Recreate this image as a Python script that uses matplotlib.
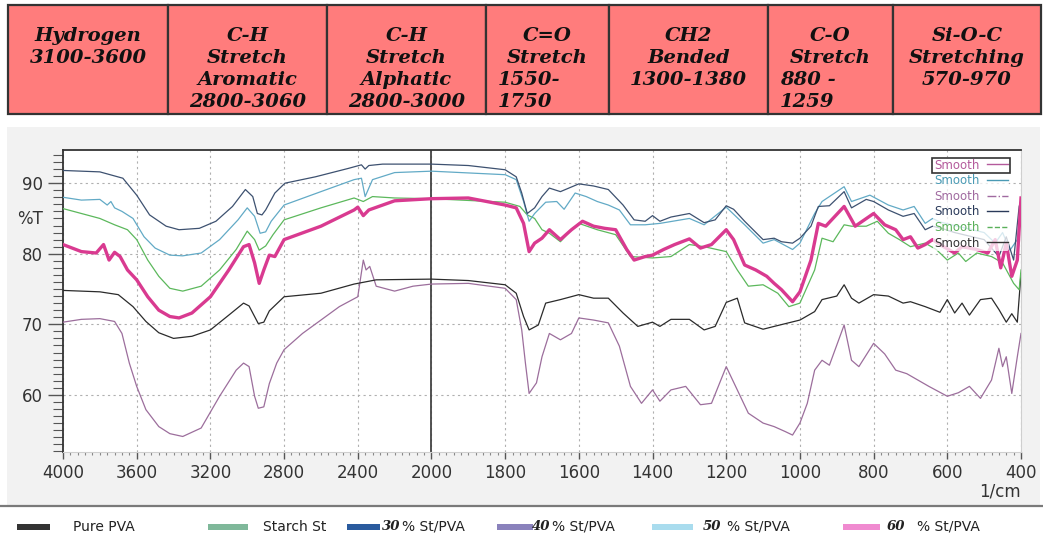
import numpy as np
import matplotlib.pyplot as plt
from matplotlib.lines import Line2D
from matplotlib.patches import Rectangle
from matplotlib.transforms import Bbox

W, H = 1043, 555

# header table: column edges (px) and the text of each column
col_edges = [8, 168, 327, 486, 609, 768, 893, 1041]
header = [["Hydrogen", "3100-3600"],
          ["C-H", "Stretch", "Aromatic", "2800-3060"],
          ["C-H", "Stretch", "Alphatic", "2800-3000"],
          ["C=O", "Stretch", "1550-", "1750"],
          ["CH2", "Bended", "1300-1380"],
          ["C-O", "Stretch", "880 -", "1259"],
          ["Si-O-C", "Stretching", "570-970"]]
wrapped_cols = [3, 5]  # last two lines run on from the left

# spectra, (wavenumber 1/cm, %T)
pure_pva = [(4000, 74.8), (3800, 74.6), (3700, 74.2), (3620, 72.5), (3550, 70.4), (3480, 68.8),
            (3400, 68.0), (3300, 68.3), (3200, 69.2), (3100, 71.3), (3020, 73.0), (2990, 72.6),
            (2960, 71.1), (2940, 70.1), (2910, 70.3), (2880, 71.9), (2800, 73.9), (2600, 74.4),
            (2420, 75.7), (2380, 75.9), (2300, 76.3), (2000, 76.4), (1900, 76.2), (1800, 75.6),
            (1770, 74.4), (1750, 71.1), (1735, 69.2), (1710, 69.9), (1690, 73.0), (1650, 73.5),
            (1600, 74.2), (1560, 73.7), (1520, 73.7), (1480, 71.6), (1440, 69.7), (1400, 70.3),
            (1380, 69.7), (1350, 70.7), (1300, 70.7), (1260, 69.2), (1230, 69.7), (1200, 73.1),
            (1170, 73.7), (1150, 70.2), (1100, 69.3), (1070, 69.7), (1000, 70.6), (960, 71.8),
            (940, 73.5), (900, 74.0), (880, 75.6), (860, 73.7), (840, 73.0), (800, 74.2),
            (760, 74.0), (720, 73.0), (700, 73.2), (660, 72.5), (620, 71.7), (600, 73.5),
            (580, 71.6), (560, 73.0), (540, 71.3), (510, 73.5), (480, 73.7), (460, 72.1),
            (440, 70.3), (425, 71.5), (410, 70.3), (400, 77.2)]

starch = [(4000, 86.4), (3900, 85.7), (3800, 85.0), (3720, 84.1), (3650, 83.4), (3600, 82.0),
          (3540, 79.1), (3480, 76.8), (3420, 75.1), (3350, 74.7), (3250, 75.4), (3150, 77.7),
          (3060, 80.6), (3000, 83.2), (2960, 82.0), (2935, 80.5), (2900, 81.1), (2860, 82.7),
          (2800, 84.8), (2600, 86.5), (2420, 87.9), (2370, 87.4), (2320, 88.1), (2200, 87.9),
          (2000, 87.8), (1800, 87.3), (1760, 86.7), (1740, 85.5), (1720, 85.0), (1700, 83.4),
          (1680, 82.9), (1650, 81.7), (1620, 83.4), (1600, 84.3), (1550, 83.4), (1500, 82.7),
          (1460, 79.6), (1400, 79.4), (1350, 79.6), (1300, 81.3), (1260, 81.0), (1200, 80.3),
          (1170, 77.7), (1140, 75.4), (1100, 75.6), (1060, 74.4), (1030, 72.5), (1000, 73.0),
          (960, 77.7), (940, 82.2), (910, 81.7), (880, 84.1), (860, 83.9), (820, 83.9),
          (790, 84.6), (760, 82.9), (730, 82.0), (700, 81.0), (660, 81.5), (630, 80.6),
          (600, 79.1), (570, 80.1), (550, 78.9), (520, 80.1), (480, 79.6), (450, 78.7),
          (420, 75.8), (405, 74.9), (400, 77.7)]

st30 = [(4000, 91.8), (3800, 91.6), (3675, 90.7), (3600, 88.3), (3530, 85.5), (3440, 83.9),
        (3370, 83.4), (3260, 83.6), (3170, 84.6), (3080, 86.7), (3010, 89.1), (2970, 88.1),
        (2945, 85.7), (2920, 85.5), (2900, 86.2), (2850, 88.6), (2795, 90.0), (2630, 90.9),
        (2450, 92.1), (2380, 92.6), (2360, 92.0), (2340, 92.5), (2265, 92.7), (2000, 92.7),
        (1900, 92.5), (1800, 91.9), (1770, 90.9), (1755, 88.6), (1740, 85.7), (1720, 86.5),
        (1700, 88.1), (1680, 89.3), (1650, 88.8), (1600, 89.9), (1560, 89.6), (1520, 89.1),
        (1480, 86.9), (1450, 84.8), (1420, 84.6), (1400, 85.4), (1380, 84.6), (1350, 85.2),
        (1300, 85.7), (1260, 84.4), (1230, 84.8), (1200, 86.8), (1180, 86.3), (1150, 84.6),
        (1100, 82.0), (1070, 82.2), (1050, 81.7), (1020, 81.5), (1000, 82.2), (970, 83.9),
        (950, 86.7), (920, 86.8), (880, 88.8), (860, 86.5), (820, 87.7), (800, 87.4),
        (760, 86.2), (720, 85.3), (690, 85.7), (660, 83.4), (640, 83.9), (610, 83.5),
        (580, 83.0), (540, 82.5), (500, 82.0), (460, 79.6), (440, 82.4), (420, 79.1),
        (405, 86.7), (400, 87.6)]

st40 = [(4000, 70.3), (3900, 70.7), (3800, 70.8), (3720, 70.4), (3680, 68.7), (3640, 64.5),
        (3600, 61.2), (3550, 57.9), (3480, 55.5), (3420, 54.5), (3350, 54.1), (3250, 55.3),
        (3150, 59.8), (3060, 63.5), (3020, 64.5), (2990, 64.0), (2960, 59.8), (2940, 58.1),
        (2910, 58.3), (2880, 61.6), (2840, 64.5), (2800, 66.4), (2700, 68.7), (2600, 70.6),
        (2500, 72.5), (2400, 73.9), (2370, 79.1), (2355, 77.7), (2335, 78.2), (2300, 75.4),
        (2200, 74.7), (2100, 75.4), (2000, 75.7), (1900, 75.8), (1800, 75.1), (1770, 73.5),
        (1755, 69.2), (1745, 64.5), (1735, 60.2), (1715, 61.7), (1700, 65.4), (1680, 68.7),
        (1650, 67.8), (1620, 68.7), (1600, 70.9), (1560, 70.6), (1520, 70.2), (1490, 66.9),
        (1460, 61.2), (1430, 58.8), (1400, 60.7), (1380, 59.1), (1350, 60.7), (1310, 61.2),
        (1270, 58.6), (1240, 58.8), (1200, 64.0), (1170, 60.7), (1140, 57.4), (1100, 56.0),
        (1070, 55.5), (1040, 54.8), (1020, 54.3), (1000, 56.0), (980, 58.8), (960, 63.5),
        (940, 64.9), (920, 64.2), (880, 69.9), (860, 64.9), (840, 64.0), (800, 67.3),
        (770, 65.8), (740, 63.5), (710, 63.0), (680, 62.1), (650, 61.2), (600, 59.8),
        (570, 60.3), (540, 61.2), (510, 59.5), (480, 62.1), (460, 66.6), (450, 64.0),
        (440, 65.4), (425, 60.2), (410, 65.4), (400, 68.7)]

st50 = [(4000, 88.0), (3900, 87.6), (3800, 87.7), (3760, 86.9), (3740, 87.4), (3720, 86.5),
        (3680, 86.0), (3620, 85.0), (3560, 82.4), (3500, 80.8), (3420, 79.8), (3350, 79.7),
        (3250, 80.1), (3150, 82.0), (3050, 84.8), (3000, 86.5), (2960, 85.3), (2930, 82.9),
        (2900, 83.1), (2870, 84.6), (2800, 86.9), (2600, 88.8), (2420, 90.5), (2380, 90.7),
        (2360, 88.1), (2320, 90.5), (2200, 91.5), (2000, 91.7), (1800, 91.2), (1770, 90.5),
        (1750, 87.4), (1735, 84.6), (1720, 85.7), (1690, 87.3), (1660, 87.4), (1640, 86.3),
        (1610, 88.6), (1580, 88.1), (1550, 87.4), (1520, 86.9), (1490, 86.2), (1460, 84.1),
        (1420, 84.1), (1380, 84.3), (1300, 85.0), (1260, 84.1), (1200, 86.6), (1150, 84.1),
        (1100, 81.5), (1070, 82.0), (1020, 80.6), (1000, 81.5), (960, 85.7), (940, 87.4),
        (880, 89.5), (860, 87.4), (810, 88.3), (760, 86.9), (720, 86.2), (690, 86.7),
        (660, 84.3), (640, 85.0), (620, 84.5), (580, 84.0), (540, 83.5), (500, 83.0),
        (470, 81.5), (450, 83.0), (430, 80.5), (410, 82.0), (400, 87.0)]

st60 = [(4000, 81.3), (3900, 80.3), (3820, 80.1), (3780, 81.3), (3750, 79.1), (3720, 80.2),
        (3690, 79.6), (3650, 77.7), (3600, 76.3), (3540, 73.9), (3480, 72.0), (3420, 71.1),
        (3370, 70.9), (3300, 71.6), (3200, 73.9), (3100, 77.7), (3020, 81.0), (2990, 81.3),
        (2960, 78.7), (2935, 75.8), (2910, 77.7), (2880, 79.8), (2850, 79.6), (2800, 82.0),
        (2600, 83.9), (2420, 86.2), (2400, 86.6), (2370, 85.4), (2340, 86.2), (2200, 87.5),
        (2000, 87.8), (1900, 87.9), (1800, 86.9), (1770, 86.5), (1750, 84.3), (1735, 80.3),
        (1720, 81.5), (1700, 82.2), (1680, 83.4), (1650, 82.0), (1620, 83.4), (1590, 84.6),
        (1560, 83.9), (1530, 83.6), (1500, 83.4), (1470, 80.6), (1450, 79.1), (1420, 79.6),
        (1400, 79.8), (1370, 80.6), (1340, 81.3), (1300, 82.1), (1270, 80.8), (1240, 81.3),
        (1200, 83.4), (1180, 82.0), (1150, 78.4), (1120, 77.7), (1090, 76.8), (1070, 75.8),
        (1050, 74.9), (1020, 73.2), (1000, 74.6), (970, 79.1), (950, 84.3), (930, 83.9),
        (880, 86.7), (850, 83.9), (800, 85.7), (770, 84.1), (740, 83.4), (720, 82.0),
        (700, 82.4), (680, 80.8), (660, 81.3), (640, 82.0), (610, 81.0), (580, 80.1),
        (560, 81.0), (520, 80.6), (490, 80.1), (470, 82.0), (455, 78.0), (440, 81.5),
        (425, 76.8), (410, 79.1), (400, 87.9)]

# drawing order, colours and widths of the spectra
curves = [(st40, "#9c6e9c", 0.9), (pure_pva, "#2b2b2b", 0.9), (starch, "#5cb85c", 0.9),
          (st50, "#62aac6", 0.9), (st30, "#3d5170", 0.9), (st60, "#d93a90", 2.4)]

# "Smooth" legend inside the plot
smooth_colors = ["#b45a9c", "#4a9ab4", "#a06aa0", "#2a3a5a", "#5ab05a", "#333333"]
smooth_styles = ["-", "-", "-.", "-", "--", "-"]

# legend row below the plot
legend_names = ["Pure PVA", "Starch St", "30", "40", "50", "60"]
legend_colors = ["#333333", "#7fb89a", "#2a5b9e", "#8a82bc", "#a9dcee", "#f08ad0"]
legend_patch_x = [(17, 50), (208, 248), (347, 380), (497, 533), (652, 693), (843, 880)]
legend_text_x = [73, 263, 382, 532, 703, 887]
legend_pct_x = [None, None, 402, 552, 727, 917]


def fwd(w):
    # the spectrometer doubles the x scale below 2000 1/cm
    w = np.asarray(w, dtype=float)
    return np.where(w <= 2000, w, 2000 + (w - 2000) * 0.5)


def inv(u):
    u = np.asarray(u, dtype=float)
    return np.where(u <= 2000, u, 2000 + (u - 2000) * 2.0)


def fx(x):
    return x / W


def fy(y):
    return 1 - y / H


fig = plt.figure(figsize=(W / 100, H / 100), dpi=100)

# header table
for i, lines in enumerate(header):
    x0, x1 = col_edges[i], col_edges[i + 1]
    fig.add_artist(Rectangle((fx(x0), fy(114)), (x1 - x0) / W, 109 / H, transform=fig.transFigure,
                             facecolor="#ff7c7c", edgecolor="#333333", lw=1.6))
    for j, s in enumerate(lines):
        if i in wrapped_cols and j >= 2:
            xt, ha = x0 + 12, "left"
        else:
            xt, ha = (x0 + x1) / 2, "center"
        fig.text(fx(xt), fy(36 + 22 * j), s, ha=ha, va="center", fontsize=14,
                 family="DejaVu Serif", weight="bold", style="italic", color="#111111")

# grey panel of the spectrum picture
fig.add_artist(Rectangle((fx(7), fy(505)), 1033 / W, 378 / H, transform=fig.transFigure,
                         facecolor="#f2f2f2", edgecolor="none", zorder=-5))
fig.add_artist(Line2D([0, 1], [fy(506), fy(506)], transform=fig.transFigure, color="#7a7a7a", lw=1.6))

ax = fig.add_axes([fx(63), fy(452), (1021 - 63) / W, (452 - 150) / H])
ax.set_xscale("function", functions=(fwd, inv))

for data, color, lw in curves:
    d = np.array(data)
    ax.plot(d[:, 0], d[:, 1], color=color, lw=lw, zorder=3)

ax.set_xlim(4000, 400)
ax.set_ylim(51.9, 94.7)
ax.set_xticks([4000, 3600, 3200, 2800, 2400, 2000, 1800, 1600, 1400, 1200, 1000, 800, 600, 400])
ax.set_xticks(list(range(2040, 4000, 40)) + list(range(420, 2000, 20)), minor=True)
ax.set_yticks([60, 70, 80, 90])
ax.set_yticks(range(52, 95), minor=True)
ax.tick_params(axis="y", which="major", length=11, width=1, pad=3.5, labelsize=12,
               color="#555555", labelcolor="#333333")
ax.tick_params(axis="y", which="minor", length=7, width=0.8, color="#555555")
ax.tick_params(axis="x", which="major", length=5, width=1, pad=3.5, labelsize=12,
               color="#555555", labelcolor="#333333")
ax.tick_params(axis="x", which="minor", length=2.5, width=0.8, color="#888888")
ax.grid(True, which="major", color="#b0b0b0", ls=(0, (2, 3)), lw=0.8)
ax.axvline(2000, color="#444444", lw=1.3, zorder=2)
for side in ["top", "left"]:
    ax.spines[side].set_color("#333333")
    ax.spines[side].set_linewidth(1.3)
for side in ["right", "bottom"]:
    ax.spines[side].set_color("#cfcfcf")

fig.text(fx(17), fy(219), "%T", ha="left", va="center", fontsize=12, color="#333333")
fig.text(fx(1021), fy(492), "1/cm", ha="right", va="center", fontsize=12, color="#333333")

handles = [Line2D([], [], color=c, lw=1.0, ls=ls) for c, ls in zip(smooth_colors, smooth_styles)]
leg = ax.legend(handles, ["Smooth"] * 6, loc="upper right", bbox_to_anchor=(0.994, 0.995),
                markerfirst=False, fontsize=8.5, labelspacing=0.22, handlelength=1.8,
                handletextpad=0.6, borderpad=0.1, frameon=True, facecolor="white",
                edgecolor="none", framealpha=0.75, labelcolor=smooth_colors)
leg.set_zorder(5)

# box round the first legend row
fig.canvas.draw()
r = fig.canvas.get_renderer()
bb = Bbox.union([leg.get_texts()[0].get_window_extent(r),
                 leg.legend_handles[0].get_window_extent(r)])
bb = bb.transformed(fig.transFigure.inverted())
fig.add_artist(Rectangle((bb.x0 - 2 / W, bb.y0 - 1 / H), bb.width + 4 / W, bb.height + 2 / H,
                         transform=fig.transFigure, fill=False, edgecolor="#333333", lw=1.2))

# legend row under the picture
for i, name in enumerate(legend_names):
    p0, p1 = legend_patch_x[i]
    fig.add_artist(Rectangle((fx(p0), fy(530)), (p1 - p0) / W, 6 / H, transform=fig.transFigure,
                             facecolor=legend_colors[i], edgecolor="none"))
    if legend_pct_x[i] is None:
        fig.text(fx(legend_text_x[i]), fy(527), name, ha="left", va="center", fontsize=10,
                 family=["DejaVu Sans Condensed", "DejaVu Sans"], color="#222222")
    else:
        fig.text(fx(legend_text_x[i]), fy(527), name, ha="left", va="center", fontsize=9.5,
                 family="DejaVu Serif", weight="bold", style="italic", color="#222222")
        fig.text(fx(legend_pct_x[i]), fy(527), "% St/PVA", ha="left", va="center", fontsize=10,
                 family=["DejaVu Sans Condensed", "DejaVu Sans"], color="#222222")

fig.savefig("out.png", dpi=100)
